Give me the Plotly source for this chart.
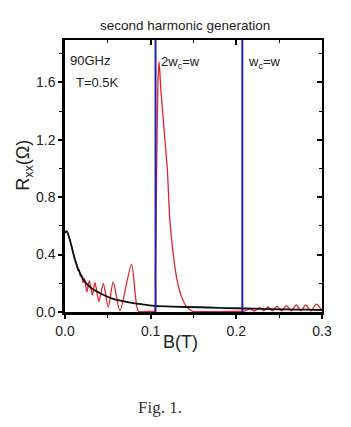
import plotly.graph_objects as go

# ---- data ----
black_B = [0, 0.002, 0.0058, 0.0097, 0.0136, 0.0175, 0.0233, 0.031, 0.0427, 0.0544,
           0.066, 0.0816, 0.093, 0.106, 0.125, 0.157, 0.18, 0.2, 0.22, 0.24, 0.26, 0.28, 0.3]
black_R = [0.55, 0.563, 0.50, 0.408, 0.327, 0.27, 0.21, 0.165, 0.125, 0.095,
           0.077, 0.06, 0.051, 0.042, 0.037, 0.033, 0.029, 0.026, 0.023, 0.02, 0.018, 0.016, 0.014]

red_B = [0, 0.002, 0.0058, 0.0097, 0.012, 0.0135, 0.015, 0.0165, 0.018, 0.0195, 0.021,
         0.0225, 0.0256, 0.0284, 0.0319, 0.035, 0.0396, 0.0447, 0.0505, 0.0563, 0.0641,
         0.0777, 0.0855, 0.092, 0.1, 0.1045, 0.1055, 0.107, 0.1085, 0.1097, 0.1108,
         0.1119, 0.1142, 0.1166, 0.1195, 0.1224, 0.1262, 0.1309, 0.136, 0.1418, 0.149,
         0.16, 0.18, 0.2, 0.2095, 0.2156, 0.2215, 0.2273, 0.2321, 0.2369, 0.2421, 0.2474,
         0.2529, 0.2584, 0.2642, 0.27, 0.2755, 0.2809, 0.2871, 0.2933, 0.3]
red_R = [0.55, 0.563, 0.50, 0.408, 0.36, 0.335, 0.29, 0.295, 0.25, 0.255, 0.205,
         0.234, 0.141, 0.218, 0.118, 0.204, 0.072, 0.2, 0.033, 0.21, 0.009,
         0.334, 0.006, 0.004, 0.004, 0.005, 0.25, 1.0, 1.6, 1.745, 1.66,
         1.55, 1.38, 1.2, 0.99, 0.64, 0.41, 0.22, 0.107, 0.037, 0.005,
         0.003, 0.003, 0.004, 0.006, 0.022, 0.007, 0.03, 0.008, 0.035, 0.008, 0.04,
         0.008, 0.045, 0.008, 0.05, 0.008, 0.05, 0.008, 0.055, 0.01]

resonance_B = [0.1057, 0.207]
resonance_labels = ["2w<sub>c</sub>=w", "w<sub>c</sub>=w"]

x_ticks = [0.0, 0.1, 0.2, 0.3]
y_ticks = [0.0, 0.4, 0.8, 1.2, 1.6]
y_max = 1.895

FONT = "Liberation Sans Narrow, Arial Narrow, Liberation Sans, Arial, sans-serif"

fig = go.Figure()

fig.add_trace(go.Scatter(x=red_B, y=red_R, mode="lines",
                         line=dict(color="#e3232c", width=1.3, shape="spline", smoothing=0.7),
                         showlegend=False))
fig.add_trace(go.Scatter(x=black_B, y=black_R, mode="lines",
                         line=dict(color="#111111", width=1.8, shape="spline", smoothing=0.8),
                         showlegend=False))
for b in resonance_B:
    fig.add_trace(go.Scatter(x=[b, b], y=[0, y_max], mode="lines",
                             line=dict(color="#2222b0", width=2), showlegend=False))
# invisible trace for the mirrored (top/right) axes
fig.add_trace(go.Scatter(x=[0], y=[0], xaxis="x2", yaxis="y2", mode="markers",
                         marker=dict(opacity=0), showlegend=False, hoverinfo="skip"))

fig.update_layout(
    width=351, height=427,
    margin=dict(l=65, r=28.5, t=40, b=114.5),
    paper_bgcolor="white", plot_bgcolor="white",
    font=dict(family=FONT, size=14, color="#222"),
    xaxis=dict(range=[0, 0.3], tickvals=x_ticks, ticktext=[f"{v:.1f}" for v in x_ticks],
               showgrid=False, zeroline=False, showline=True, linecolor="black", linewidth=2.5,
               ticks="outside", ticklen=4, tickwidth=1.5, tickcolor="black",
               minor=dict(dtick=0.05, ticks="outside", ticklen=3, tickwidth=1.2, tickcolor="black"),
               tickfont=dict(size=14)),
    yaxis=dict(range=[0, y_max], tickvals=y_ticks, ticktext=[f"{v:.1f}" for v in y_ticks],
               showgrid=False, zeroline=False, showline=True, linecolor="black", linewidth=2.5,
               ticks="outside", ticklen=4, tickwidth=1.5, tickcolor="black",
               minor=dict(dtick=0.2, tick0=0, ticks="outside", ticklen=3, tickwidth=1.2, tickcolor="black"),
               tickfont=dict(size=14)),
    xaxis2=dict(range=[0, 0.3], overlaying="x", side="top", anchor="y", tickvals=x_ticks,
                showticklabels=False, showgrid=False, zeroline=False, showline=True,
                linecolor="black", linewidth=1.5, ticks="inside", ticklen=5, tickwidth=1.5,
                tickcolor="black",
                minor=dict(dtick=0.05, ticks="inside", ticklen=3, tickwidth=1.2, tickcolor="black")),
    yaxis2=dict(range=[0, y_max], overlaying="y", side="right", anchor="x", tickvals=y_ticks,
                showticklabels=False, showgrid=False, zeroline=False, showline=True,
                linecolor="black", linewidth=1.5, ticks="inside", ticklen=5, tickwidth=1.5,
                tickcolor="black",
                minor=dict(dtick=0.2, tick0=0, ticks="inside", ticklen=3, tickwidth=1.2, tickcolor="black")),
)

ann = []
ann.append(dict(text="second harmonic generation", xref="paper", yref="paper",
                x=(185 - 65) / 257.5, y=(312.5 - 25) / 272.5, showarrow=False,
                font=dict(size=13.5), xanchor="center", yanchor="middle"))
ann.append(dict(text="90GHz", x=0.0035, y=1.75, showarrow=False, xanchor="left",
                yanchor="middle", font=dict(size=13)))
ann.append(dict(text="T=0.5K", x=0.0105, y=1.6, showarrow=False, xanchor="left",
                yanchor="middle", font=dict(size=13)))
for b, lab in zip(resonance_B, resonance_labels):
    ann.append(dict(text=lab, x=b + 0.004, y=1.74, showarrow=False, xanchor="left",
                    yanchor="middle", font=dict(size=13)))
ann.append(dict(text="R<sub>xx</sub>(Ω)", xref="paper", yref="paper",
                x=(25 - 65) / 257.5, y=(312.5 - 166) / 272.5, showarrow=False,
                textangle=-90, xanchor="center", yanchor="middle", font=dict(size=18)))
ann.append(dict(text="B(T)", xref="paper", yref="paper",
                x=(181 - 65) / 257.5, y=(312.5 - 343) / 272.5, showarrow=False,
                xanchor="center", yanchor="middle", font=dict(size=18)))
ann.append(dict(text="Fig. 1.", xref="paper", yref="paper",
                x=(160 - 65) / 257.5, y=(312.5 - 408) / 272.5, showarrow=False,
                xanchor="center", yanchor="middle",
                font=dict(size=17, family="Liberation Serif, Times New Roman, serif", color="#333")))
fig.update_layout(annotations=ann)

fig.write_html("out.html")
